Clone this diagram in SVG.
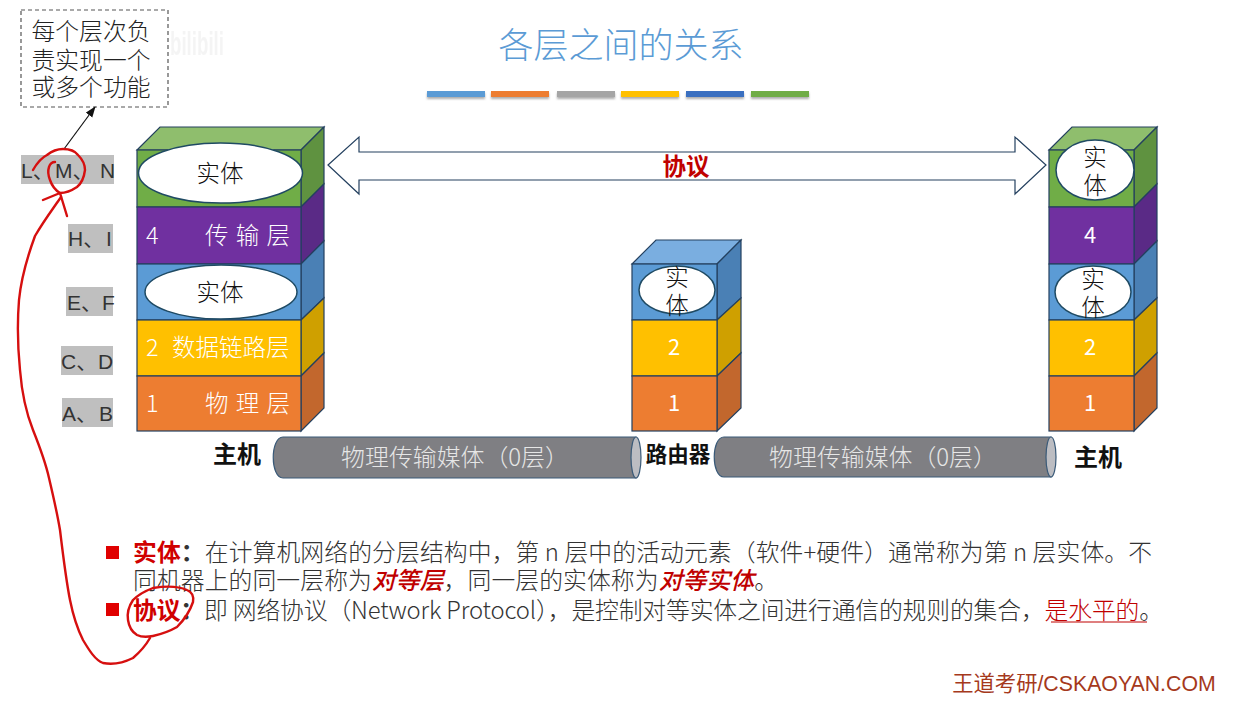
<svg xmlns="http://www.w3.org/2000/svg" width="1234" height="704" viewBox="0 0 1234 704">
<defs>
<filter id="sh" x="-5%" y="-50%" width="110%" height="250%"><feGaussianBlur stdDeviation="1.2"/></filter>
<marker id="ah" markerWidth="12" markerHeight="10" refX="10" refY="4" orient="auto" markerUnits="userSpaceOnUse"><path d="M0 0L11 4L0 8Z" fill="#111"/></marker>
</defs>
<style>
text{font-family:"Noto Sans CJK SC","Liberation Sans",sans-serif}
.b{font-size:23.800px;fill:#333;font-weight:300}
.g{fill:#111;font-size:23.500px;text-anchor:middle;font-weight:300}
.n{fill:#222;font-size:23.800px;text-anchor:middle;font-weight:300}
.w{fill:#fff;font-size:22px;text-anchor:middle}
.wl{fill:#fff;font-size:23.500px;font-weight:300}
.sp{word-spacing:2px}
.lb{fill:#333;font-size:21px;font-family:"Liberation Sans","Noto Sans CJK SC",sans-serif}
.bg{fill:#bfbfbf}
.k{fill:#111;font-size:24px;font-weight:700;text-anchor:middle}
.s{stroke:#24405f;stroke-width:1.2}
.e{fill:#fff;stroke:#1f4a63;stroke-width:1.5}
.red{fill:none;stroke:#d60f0f;stroke-width:2.4;stroke-linecap:round;stroke-linejoin:round}
.cy{fill:#7f7f83;stroke:#3a5a78;stroke-width:1.2}
.cye{fill:#bcbdc2;stroke:#3a5a78;stroke-width:1.2}
.ct{fill:#e6e6e6;font-size:23.900px;text-anchor:middle;font-weight:300}
.rd{fill:#d00000;font-weight:700}
.ri{fill:#c00000;font-style:italic;font-weight:500}
</style>

<g id="title">
<text x="621" y="58" font-size="35" fill="#5b9bd5" text-anchor="middle" font-weight="300">各层之间的关系</text>
</g>
<g id="title-bars">
<g filter="url(#sh)" fill="#777" opacity=".6"><rect x="427" y="93" width="58" height="6"/><rect x="491" y="93" width="58" height="6"/><rect x="557" y="93" width="58" height="6"/><rect x="621" y="93" width="58" height="6"/><rect x="686" y="93" width="58" height="6"/><rect x="751" y="93" width="58" height="6"/></g>
<rect x="427" y="91" width="58" height="6" fill="#5b9bd5"/><rect x="491" y="91" width="58" height="6" fill="#ed7d31"/><rect x="557" y="91" width="58" height="6" fill="#a5a5a5"/><rect x="621" y="91" width="58" height="6" fill="#ffc000"/><rect x="686" y="91" width="58" height="6" fill="#3a6fc0"/><rect x="751" y="91" width="58" height="6" fill="#70ad47"/>
</g>

<g id="note">
<rect x="21" y="10" width="147" height="97" fill="#fff" stroke="#555" stroke-width="1.2" stroke-dasharray="4 3"/>
<text class="n" x="91" y="40">每个层次负</text>
<text class="n" x="91" y="69">责实现一个</text>
<text class="n" x="91" y="96">或多个功能</text>
</g>
<g id="watermark" opacity=".45"><text x="170" y="55" font-size="33" font-weight="700" fill="#e8e8e8" textLength="54" lengthAdjust="spacingAndGlyphs" style="font-family:'Liberation Sans',sans-serif">bilibili</text></g>

<g id="labels">
<rect class="bg" x="21" y="155" width="93" height="29"/><text class="lb" y="178"><tspan x="21">L、</tspan><tspan x="55">M、</tspan><tspan x="100">N</tspan></text>
<rect class="bg" x="68" y="224" width="45" height="29"/><text class="lb" y="246"><tspan x="68">H、</tspan><tspan x="106">I</tspan></text>
<rect class="bg" x="66" y="287" width="47" height="29"/><text class="lb" y="310"><tspan x="67">E、</tspan><tspan x="102">F</tspan></text>
<rect class="bg" x="61" y="346" width="52" height="29"/><text class="lb" y="369"><tspan x="61">C、</tspan><tspan x="98">D</tspan></text>
<rect class="bg" x="62" y="398" width="51" height="29"/><text class="lb" y="421"><tspan x="62">A、</tspan><tspan x="99">B</tspan></text>
</g>

<g id="host-left">
<path class="s" d="M137 150L160 127H324L301 150Z" fill="#8fbe6d"/>
<path class="s" d="M301 150L324 127V184L301 207Z" fill="#5f9240"/>
<path class="s" d="M301 207L324 184V241L301 264Z" fill="#5a2a86"/>
<path class="s" d="M301 264L324 241V298L301 320Z" fill="#4a80b5"/>
<path class="s" d="M301 320L324 298V353L301 376Z" fill="#cfa000"/>
<path class="s" d="M301 376L324 353V408L301 431Z" fill="#c2672d"/>
<rect class="s" x="137" y="150" width="164" height="57" fill="#70ad47"/>
<rect class="s" x="137" y="207" width="164" height="57" fill="#7030a0"/>
<rect class="s" x="137" y="264" width="164" height="56" fill="#5b9bd5"/>
<rect class="s" x="137" y="320" width="164" height="56" fill="#ffc000"/>
<rect class="s" x="137" y="376" width="164" height="55" fill="#ed7d31"/>
<ellipse class="e" cx="220.500" cy="173" rx="82" ry="30"/>
<text class="g" x="220" y="182">实体</text>
<ellipse class="e" cx="221" cy="292" rx="76" ry="27"/>
<text class="g" x="220" y="301">实体</text>
<text class="wl" x="146" y="244">4</text><text class="wl sp" x="205" y="244">传 输 层</text>
<text class="wl" x="146" y="356">2</text><text class="wl" x="172" y="356">数据链路层</text>
<text class="wl" x="146" y="412">1</text><text class="wl sp" x="205" y="412">物 理 层</text>
<text class="k" x="237" y="463">主机</text>
</g>

<g id="router">
<path class="s" d="M632 264L656 240H741L717 264Z" fill="#7aaee0"/>
<path class="s" d="M717 264L741 240V298L717 320Z" fill="#4a80b5"/>
<path class="s" d="M717 320L741 298V353L717 376Z" fill="#cfa000"/>
<path class="s" d="M717 376L741 353V408L717 431Z" fill="#c2672d"/>
<rect class="s" x="632" y="264" width="85" height="56" fill="#5b9bd5"/>
<rect class="s" x="632" y="320" width="85" height="56" fill="#ffc000"/>
<rect class="s" x="632" y="376" width="85" height="55" fill="#ed7d31"/>
<ellipse class="e" cx="677" cy="290" rx="38" ry="24"/>
<text class="g" x="677" y="286">实</text><text class="g" x="677" y="314">体</text>
<text class="w" x="674" y="355">2</text><text class="w" x="674" y="411">1</text>
<text class="k" x="678" y="462" style="font-size:21.500px">路由器</text>
</g>

<g id="host-right">
<path class="s" d="M1049 150L1072 127H1157L1134 150Z" fill="#8fbe6d"/>
<path class="s" d="M1134 150L1157 127V184L1134 207Z" fill="#5f9240"/>
<path class="s" d="M1134 207L1157 184V241L1134 264Z" fill="#5a2a86"/>
<path class="s" d="M1134 264L1157 241V298L1134 320Z" fill="#4a80b5"/>
<path class="s" d="M1134 320L1157 298V353L1134 376Z" fill="#cfa000"/>
<path class="s" d="M1134 376L1157 353V408L1134 431Z" fill="#c2672d"/>
<rect class="s" x="1049" y="150" width="85" height="57" fill="#70ad47"/>
<rect class="s" x="1049" y="207" width="85" height="57" fill="#7030a0"/>
<rect class="s" x="1049" y="264" width="85" height="56" fill="#5b9bd5"/>
<rect class="s" x="1049" y="320" width="85" height="56" fill="#ffc000"/>
<rect class="s" x="1049" y="376" width="85" height="55" fill="#ed7d31"/>
<ellipse class="e" cx="1095" cy="170" rx="39" ry="30"/>
<text class="g" x="1095" y="166">实</text><text class="g" x="1095" y="194">体</text>
<ellipse class="e" cx="1093" cy="292" rx="38" ry="26"/>
<text class="g" x="1093" y="288">实</text><text class="g" x="1093" y="316">体</text>
<text class="w" x="1090" y="243">4</text><text class="w" x="1090" y="355">2</text><text class="w" x="1090" y="411">1</text>
<text class="k" x="1098" y="466">主机</text>
</g>

<g id="medium-left">
<path class="cy" d="M283 437H636V478H283C270 478 270 437 283 437Z"/>
<ellipse class="cye" cx="636" cy="457.500" rx="5" ry="20.500"/>
<text class="ct" x="455" y="466">物理传输媒体（0层）</text>
</g>
<g id="medium-right">
<path class="cy" d="M724 437H1051V477H724C711 477 711 437 724 437Z"/>
<ellipse class="cye" cx="1051" cy="457" rx="5" ry="20"/>
<text class="ct" x="883" y="466">物理传输媒体（0层）</text>
</g>

<g id="connectors">
<path d="M328 165L359 137V152H1015V137L1046 165L1015 194V180H359V194Z" fill="#fff" stroke="#24405f" stroke-width="1.2"/>
<text x="686" y="175" font-size="23.500" font-weight="700" fill="#c00000" text-anchor="middle">协议</text>
<path d="M64 149L95 107" fill="none" stroke="#111" stroke-width="1.2" marker-end="url(#ah)"/>
</g>

<g id="body">
<rect x="106" y="546" width="13" height="13" fill="#e00000"/>
<text class="b" x="133" y="561" textLength="1019" lengthAdjust="spacing"><tspan class="rd">实体</tspan><tspan font-weight="700">：</tspan>在计算机网络的分层结构中，第 n 层中的活动元素（软件+硬件）通常称为第 n 层实体。不</text>
<text class="b" x="133" y="589" textLength="645" lengthAdjust="spacing"><tspan>同机器上的同一层称为</tspan><tspan class="ri">对等层</tspan><tspan>，同一层的实体称为</tspan><tspan class="ri">对等实体</tspan><tspan>。</tspan></text>
<rect x="106" y="603" width="13" height="13" fill="#e00000"/>
<text class="b" x="133" y="619" textLength="1030" lengthAdjust="spacing"><tspan class="rd">协议</tspan><tspan font-weight="700">：</tspan>即 网络协议（Network Protocol），是控制对等实体之间进行通信的规则的集合，<tspan fill="#c00000">是水平的</tspan>。</text>
<path d="M1051 622H1147" stroke="#c00000" stroke-width="1.2" fill="none"/>
</g>
<g id="footer"><text x="1084" y="691" font-size="21.300" fill="#a5391c" text-anchor="middle" style="font-family:'Liberation Sans','Noto Sans CJK SC',sans-serif">王道考研/CSKAOYAN.COM</text></g>

<g id="annotations">
<path class="red" d="M33 170C37 163 41 158 47 155C52 151 58 149 63 149C70 149 75 151 78 155C83 160 85 165 85 170C84 178 82 183 77 187C71 191 65 193 60 193C55 190 52 186 50 180C48 175 48 170 49 167C50 164 52 162 55 162"/>
<path class="red" d="M43 200L60 193L67 216"/>
<path class="red" d="M61 197C52 210 43 222 35 236C28 255 21 280 19 300C17 325 18 350 20 370C22 395 27 415 33 430C39 445 45 460 49 478C53 495 57 512 60 530C63 555 66 580 70 600C73 615 77 628 83 640C89 650 95 660 103 663C113 665 125 662 133 658C140 652 146 645 150 638"/>
<path class="red" d="M187 590C178 586 165 586 153 588C145 591 138 595 133 600C129 606 127 614 128 620C129 627 132 632 137 635C143 638 148 637 153 636C162 634 170 631 177 627C184 620 190 611 193 602C194 596 192 592 187 590Z"/>
</g>
</svg>
